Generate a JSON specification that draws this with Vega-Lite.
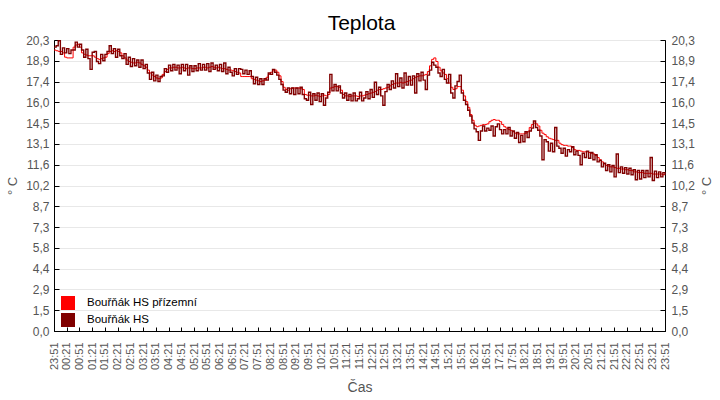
{
  "$schema": "https://vega.github.io/schema/vega-lite/v6.json",
  "width": 611,
  "height": 291,
  "autosize": {"type": "none"},
  "padding": {"left": 54, "top": 40, "right": 55, "bottom": 69},
  "background": "white",
  "title": {"text": "Teplota", "fontSize": 21, "fontWeight": "normal", "color": "black", "anchor": "middle", "frame": "group", "offset": -17, "baseline": "alphabetic", "dx": 2},
  "config": {
    "font": "Liberation Sans",
    "view": {"stroke": "black", "strokeWidth": 1},
    "axis": {"domainColor": "black", "tickColor": "black", "labelColor": "#555", "titleColor": "#555", "titleFontWeight": "normal", "gridColor": "#e8e8e8"}
  },
  "data": {
    "values": [
      {"cas": "2024-05-01T23:51", "prizemni": 19.6, "hs": 19.8},
      {"cas": "2024-05-01T23:56", "prizemni": 19.55, "hs": 19.9},
      {"cas": "2024-05-02T00:01", "prizemni": 19.5, "hs": 20.25},
      {"cas": "2024-05-02T00:06", "prizemni": 19.5, "hs": 19.3},
      {"cas": "2024-05-02T00:11", "prizemni": 19.4, "hs": 19.75},
      {"cas": "2024-05-02T00:16", "prizemni": 19.1, "hs": 19.4},
      {"cas": "2024-05-02T00:21", "prizemni": 19.05, "hs": 19.7},
      {"cas": "2024-05-02T00:26", "prizemni": 19.05, "hs": 19.35},
      {"cas": "2024-05-02T00:31", "prizemni": 19.05, "hs": 19.6},
      {"cas": "2024-05-02T00:36", "prizemni": 19.8, "hs": 19.6},
      {"cas": "2024-05-02T00:41", "prizemni": 19.95, "hs": 20.15},
      {"cas": "2024-05-02T00:46", "prizemni": 20.0, "hs": 19.8},
      {"cas": "2024-05-02T00:51", "prizemni": 19.8, "hs": 20.0},
      {"cas": "2024-05-02T00:56", "prizemni": 19.4, "hs": 19.6},
      {"cas": "2024-05-02T01:01", "prizemni": 19.3, "hs": 19.1},
      {"cas": "2024-05-02T01:06", "prizemni": 19.25, "hs": 19.65},
      {"cas": "2024-05-02T01:11", "prizemni": 19.2, "hs": 19.0},
      {"cas": "2024-05-02T01:16", "prizemni": 19.2, "hs": 18.25},
      {"cas": "2024-05-02T01:21", "prizemni": 19.2, "hs": 19.45},
      {"cas": "2024-05-02T01:26", "prizemni": 19.1, "hs": 19.5},
      {"cas": "2024-05-02T01:31", "prizemni": 19.0, "hs": 18.8},
      {"cas": "2024-05-02T01:36", "prizemni": 18.95, "hs": 18.65},
      {"cas": "2024-05-02T01:41", "prizemni": 19.0, "hs": 19.3},
      {"cas": "2024-05-02T01:46", "prizemni": 19.05, "hs": 18.85},
      {"cas": "2024-05-02T01:51", "prizemni": 19.1, "hs": 19.3},
      {"cas": "2024-05-02T01:56", "prizemni": 19.35, "hs": 19.5},
      {"cas": "2024-05-02T02:01", "prizemni": 19.5, "hs": 19.9},
      {"cas": "2024-05-02T02:06", "prizemni": 19.55, "hs": 19.35},
      {"cas": "2024-05-02T02:11", "prizemni": 19.5, "hs": 19.7},
      {"cas": "2024-05-02T02:16", "prizemni": 19.55, "hs": 19.1},
      {"cas": "2024-05-02T02:21", "prizemni": 19.5, "hs": 19.65},
      {"cas": "2024-05-02T02:26", "prizemni": 19.4, "hs": 19.2},
      {"cas": "2024-05-02T02:31", "prizemni": 19.2, "hs": 19.0},
      {"cas": "2024-05-02T02:36", "prizemni": 19.05, "hs": 19.35},
      {"cas": "2024-05-02T02:41", "prizemni": 18.9, "hs": 18.6},
      {"cas": "2024-05-02T02:46", "prizemni": 18.8, "hs": 19.1},
      {"cas": "2024-05-02T02:51", "prizemni": 18.75, "hs": 18.45},
      {"cas": "2024-05-02T02:56", "prizemni": 18.7, "hs": 19.0},
      {"cas": "2024-05-02T03:01", "prizemni": 18.7, "hs": 18.5},
      {"cas": "2024-05-02T03:06", "prizemni": 18.75, "hs": 18.9},
      {"cas": "2024-05-02T03:11", "prizemni": 18.7, "hs": 18.4},
      {"cas": "2024-05-02T03:16", "prizemni": 18.6, "hs": 18.9},
      {"cas": "2024-05-02T03:21", "prizemni": 18.5, "hs": 18.3},
      {"cas": "2024-05-02T03:26", "prizemni": 18.4, "hs": 18.6},
      {"cas": "2024-05-02T03:31", "prizemni": 18.2, "hs": 18.0},
      {"cas": "2024-05-02T03:36", "prizemni": 18.0, "hs": 17.55},
      {"cas": "2024-05-02T03:41", "prizemni": 17.85, "hs": 18.05},
      {"cas": "2024-05-02T03:46", "prizemni": 17.75, "hs": 17.45},
      {"cas": "2024-05-02T03:51", "prizemni": 17.65, "hs": 17.85},
      {"cas": "2024-05-02T03:56", "prizemni": 17.6, "hs": 17.4},
      {"cas": "2024-05-02T04:01", "prizemni": 17.65, "hs": 17.75},
      {"cas": "2024-05-02T04:06", "prizemni": 17.9, "hs": 17.8},
      {"cas": "2024-05-02T04:11", "prizemni": 18.1, "hs": 18.3},
      {"cas": "2024-05-02T04:16", "prizemni": 18.25, "hs": 18.05},
      {"cas": "2024-05-02T04:21", "prizemni": 18.35, "hs": 18.55},
      {"cas": "2024-05-02T04:26", "prizemni": 18.35, "hs": 18.15},
      {"cas": "2024-05-02T04:31", "prizemni": 18.4, "hs": 18.6},
      {"cas": "2024-05-02T04:36", "prizemni": 18.4, "hs": 18.2},
      {"cas": "2024-05-02T04:41", "prizemni": 18.35, "hs": 18.55},
      {"cas": "2024-05-02T04:46", "prizemni": 18.35, "hs": 17.95},
      {"cas": "2024-05-02T04:51", "prizemni": 18.4, "hs": 18.6},
      {"cas": "2024-05-02T04:56", "prizemni": 18.35, "hs": 18.15},
      {"cas": "2024-05-02T05:01", "prizemni": 18.3, "hs": 18.6},
      {"cas": "2024-05-02T05:06", "prizemni": 18.35, "hs": 17.85},
      {"cas": "2024-05-02T05:11", "prizemni": 18.35, "hs": 18.5},
      {"cas": "2024-05-02T05:16", "prizemni": 18.3, "hs": 18.1},
      {"cas": "2024-05-02T05:21", "prizemni": 18.3, "hs": 18.5},
      {"cas": "2024-05-02T05:26", "prizemni": 18.35, "hs": 18.15},
      {"cas": "2024-05-02T05:31", "prizemni": 18.35, "hs": 18.65},
      {"cas": "2024-05-02T05:36", "prizemni": 18.35, "hs": 18.2},
      {"cas": "2024-05-02T05:41", "prizemni": 18.4, "hs": 18.6},
      {"cas": "2024-05-02T05:46", "prizemni": 18.4, "hs": 18.2},
      {"cas": "2024-05-02T05:51", "prizemni": 18.35, "hs": 18.65},
      {"cas": "2024-05-02T05:56", "prizemni": 18.4, "hs": 18.1},
      {"cas": "2024-05-02T06:01", "prizemni": 18.45, "hs": 18.7},
      {"cas": "2024-05-02T06:06", "prizemni": 18.4, "hs": 18.25},
      {"cas": "2024-05-02T06:11", "prizemni": 18.35, "hs": 18.55},
      {"cas": "2024-05-02T06:16", "prizemni": 18.4, "hs": 18.15},
      {"cas": "2024-05-02T06:21", "prizemni": 18.35, "hs": 18.6},
      {"cas": "2024-05-02T06:26", "prizemni": 18.3, "hs": 18.1},
      {"cas": "2024-05-02T06:31", "prizemni": 18.3, "hs": 18.7},
      {"cas": "2024-05-02T06:36", "prizemni": 18.25, "hs": 17.95},
      {"cas": "2024-05-02T06:41", "prizemni": 18.2, "hs": 18.4},
      {"cas": "2024-05-02T06:46", "prizemni": 18.2, "hs": 18.05},
      {"cas": "2024-05-02T06:51", "prizemni": 18.15, "hs": 17.8},
      {"cas": "2024-05-02T06:56", "prizemni": 18.1, "hs": 18.3},
      {"cas": "2024-05-02T07:01", "prizemni": 18.05, "hs": 17.9},
      {"cas": "2024-05-02T07:06", "prizemni": 18.0, "hs": 18.3},
      {"cas": "2024-05-02T07:11", "prizemni": 17.75, "hs": 18.25},
      {"cas": "2024-05-02T07:16", "prizemni": 17.75, "hs": 17.95},
      {"cas": "2024-05-02T07:21", "prizemni": 17.75, "hs": 18.2},
      {"cas": "2024-05-02T07:26", "prizemni": 17.75, "hs": 17.9},
      {"cas": "2024-05-02T07:31", "prizemni": 17.75, "hs": 18.15},
      {"cas": "2024-05-02T07:36", "prizemni": 17.6, "hs": 17.75},
      {"cas": "2024-05-02T07:41", "prizemni": 17.55, "hs": 17.25},
      {"cas": "2024-05-02T07:46", "prizemni": 17.5, "hs": 17.7},
      {"cas": "2024-05-02T07:51", "prizemni": 17.45, "hs": 17.2},
      {"cas": "2024-05-02T07:56", "prizemni": 17.4, "hs": 17.6},
      {"cas": "2024-05-02T08:01", "prizemni": 17.45, "hs": 17.2},
      {"cas": "2024-05-02T08:06", "prizemni": 17.5, "hs": 17.6},
      {"cas": "2024-05-02T08:11", "prizemni": 17.7, "hs": 17.5},
      {"cas": "2024-05-02T08:16", "prizemni": 17.9, "hs": 18.0},
      {"cas": "2024-05-02T08:21", "prizemni": 18.05, "hs": 17.9},
      {"cas": "2024-05-02T08:26", "prizemni": 18.15, "hs": 18.25},
      {"cas": "2024-05-02T08:31", "prizemni": 18.2, "hs": 18.05},
      {"cas": "2024-05-02T08:36", "prizemni": 18.05, "hs": 17.85},
      {"cas": "2024-05-02T08:41", "prizemni": 17.8, "hs": 17.55},
      {"cas": "2024-05-02T08:46", "prizemni": 17.4, "hs": 17.2},
      {"cas": "2024-05-02T08:51", "prizemni": 17.0, "hs": 16.8},
      {"cas": "2024-05-02T08:56", "prizemni": 16.85, "hs": 16.65},
      {"cas": "2024-05-02T09:01", "prizemni": 16.8, "hs": 16.95},
      {"cas": "2024-05-02T09:06", "prizemni": 16.9, "hs": 16.55},
      {"cas": "2024-05-02T09:11", "prizemni": 16.95, "hs": 16.95},
      {"cas": "2024-05-02T09:16", "prizemni": 16.95, "hs": 16.5},
      {"cas": "2024-05-02T09:21", "prizemni": 16.95, "hs": 16.95},
      {"cas": "2024-05-02T09:26", "prizemni": 16.95, "hs": 16.55},
      {"cas": "2024-05-02T09:31", "prizemni": 16.9, "hs": 17.0},
      {"cas": "2024-05-02T09:36", "prizemni": 16.85, "hs": 16.5},
      {"cas": "2024-05-02T09:41", "prizemni": 16.5, "hs": 16.2},
      {"cas": "2024-05-02T09:46", "prizemni": 16.45, "hs": 16.1},
      {"cas": "2024-05-02T09:51", "prizemni": 16.45, "hs": 16.65},
      {"cas": "2024-05-02T09:56", "prizemni": 16.4, "hs": 15.8},
      {"cas": "2024-05-02T10:01", "prizemni": 16.4, "hs": 16.55},
      {"cas": "2024-05-02T10:06", "prizemni": 16.45, "hs": 16.1},
      {"cas": "2024-05-02T10:11", "prizemni": 16.4, "hs": 16.6},
      {"cas": "2024-05-02T10:16", "prizemni": 16.35, "hs": 16.0},
      {"cas": "2024-05-02T10:21", "prizemni": 16.4, "hs": 16.55},
      {"cas": "2024-05-02T10:26", "prizemni": 16.45, "hs": 15.75},
      {"cas": "2024-05-02T10:31", "prizemni": 16.4, "hs": 16.25},
      {"cas": "2024-05-02T10:36", "prizemni": 16.5, "hs": 16.65},
      {"cas": "2024-05-02T10:41", "prizemni": 16.95, "hs": 17.9},
      {"cas": "2024-05-02T10:46", "prizemni": 17.0, "hs": 16.75},
      {"cas": "2024-05-02T10:51", "prizemni": 17.05, "hs": 17.2},
      {"cas": "2024-05-02T10:56", "prizemni": 17.05, "hs": 16.75},
      {"cas": "2024-05-02T11:01", "prizemni": 17.0, "hs": 17.1},
      {"cas": "2024-05-02T11:06", "prizemni": 16.8, "hs": 16.6},
      {"cas": "2024-05-02T11:11", "prizemni": 16.5, "hs": 16.25},
      {"cas": "2024-05-02T11:16", "prizemni": 16.4, "hs": 16.6},
      {"cas": "2024-05-02T11:21", "prizemni": 16.4, "hs": 16.1},
      {"cas": "2024-05-02T11:26", "prizemni": 16.35, "hs": 16.5},
      {"cas": "2024-05-02T11:31", "prizemni": 16.4, "hs": 16.05},
      {"cas": "2024-05-02T11:36", "prizemni": 16.4, "hs": 16.6},
      {"cas": "2024-05-02T11:41", "prizemni": 16.4, "hs": 16.05},
      {"cas": "2024-05-02T11:46", "prizemni": 16.35, "hs": 16.2},
      {"cas": "2024-05-02T11:51", "prizemni": 16.4, "hs": 16.65},
      {"cas": "2024-05-02T11:56", "prizemni": 16.4, "hs": 16.05},
      {"cas": "2024-05-02T12:01", "prizemni": 16.45, "hs": 16.25},
      {"cas": "2024-05-02T12:06", "prizemni": 16.5, "hs": 16.7},
      {"cas": "2024-05-02T12:11", "prizemni": 16.55, "hs": 16.2},
      {"cas": "2024-05-02T12:16", "prizemni": 16.6, "hs": 16.85},
      {"cas": "2024-05-02T12:21", "prizemni": 16.65, "hs": 16.3},
      {"cas": "2024-05-02T12:26", "prizemni": 16.7, "hs": 17.35},
      {"cas": "2024-05-02T12:31", "prizemni": 16.8, "hs": 16.5},
      {"cas": "2024-05-02T12:36", "prizemni": 16.85, "hs": 17.0},
      {"cas": "2024-05-02T12:41", "prizemni": 16.85, "hs": 16.4},
      {"cas": "2024-05-02T12:46", "prizemni": 16.9, "hs": 15.75},
      {"cas": "2024-05-02T12:51", "prizemni": 16.95, "hs": 16.7},
      {"cas": "2024-05-02T12:56", "prizemni": 17.0, "hs": 17.2},
      {"cas": "2024-05-02T13:01", "prizemni": 17.1, "hs": 16.85},
      {"cas": "2024-05-02T13:06", "prizemni": 17.2, "hs": 17.45},
      {"cas": "2024-05-02T13:11", "prizemni": 17.25, "hs": 16.95},
      {"cas": "2024-05-02T13:16", "prizemni": 17.3, "hs": 17.95},
      {"cas": "2024-05-02T13:21", "prizemni": 17.3, "hs": 17.05},
      {"cas": "2024-05-02T13:26", "prizemni": 17.35, "hs": 17.65},
      {"cas": "2024-05-02T13:31", "prizemni": 17.3, "hs": 16.95},
      {"cas": "2024-05-02T13:36", "prizemni": 17.35, "hs": 18.0},
      {"cas": "2024-05-02T13:41", "prizemni": 17.4, "hs": 17.15},
      {"cas": "2024-05-02T13:46", "prizemni": 17.45, "hs": 17.75},
      {"cas": "2024-05-02T13:51", "prizemni": 17.5, "hs": 17.15},
      {"cas": "2024-05-02T13:56", "prizemni": 17.6, "hs": 17.8},
      {"cas": "2024-05-02T14:01", "prizemni": 17.7, "hs": 16.6},
      {"cas": "2024-05-02T14:06", "prizemni": 17.75, "hs": 17.95},
      {"cas": "2024-05-02T14:11", "prizemni": 17.8, "hs": 17.45},
      {"cas": "2024-05-02T14:16", "prizemni": 17.8, "hs": 18.05},
      {"cas": "2024-05-02T14:21", "prizemni": 17.85, "hs": 17.5},
      {"cas": "2024-05-02T14:26", "prizemni": 17.9, "hs": 16.85},
      {"cas": "2024-05-02T14:31", "prizemni": 18.1, "hs": 17.85},
      {"cas": "2024-05-02T14:36", "prizemni": 18.5, "hs": 18.2},
      {"cas": "2024-05-02T14:41", "prizemni": 18.95, "hs": 18.75},
      {"cas": "2024-05-02T14:46", "prizemni": 19.05, "hs": 18.55},
      {"cas": "2024-05-02T14:51", "prizemni": 18.8, "hs": 18.4},
      {"cas": "2024-05-02T14:56", "prizemni": 18.4, "hs": 18.0},
      {"cas": "2024-05-02T15:01", "prizemni": 18.15, "hs": 17.75},
      {"cas": "2024-05-02T15:06", "prizemni": 18.0, "hs": 18.25},
      {"cas": "2024-05-02T15:11", "prizemni": 17.9, "hs": 17.55},
      {"cas": "2024-05-02T15:16", "prizemni": 17.6, "hs": 17.3},
      {"cas": "2024-05-02T15:21", "prizemni": 17.3, "hs": 17.9},
      {"cas": "2024-05-02T15:26", "prizemni": 17.0, "hs": 16.6},
      {"cas": "2024-05-02T15:31", "prizemni": 16.85, "hs": 16.25},
      {"cas": "2024-05-02T15:36", "prizemni": 16.9, "hs": 17.1},
      {"cas": "2024-05-02T15:41", "prizemni": 17.05, "hs": 17.4},
      {"cas": "2024-05-02T15:46", "prizemni": 17.05, "hs": 17.85},
      {"cas": "2024-05-02T15:51", "prizemni": 16.8, "hs": 16.6},
      {"cas": "2024-05-02T15:56", "prizemni": 16.4, "hs": 16.1},
      {"cas": "2024-05-02T16:01", "prizemni": 16.0, "hs": 15.8},
      {"cas": "2024-05-02T16:06", "prizemni": 15.6, "hs": 15.4},
      {"cas": "2024-05-02T16:11", "prizemni": 15.1, "hs": 15.0},
      {"cas": "2024-05-02T16:16", "prizemni": 14.7, "hs": 14.5},
      {"cas": "2024-05-02T16:21", "prizemni": 14.35, "hs": 14.1},
      {"cas": "2024-05-02T16:26", "prizemni": 14.25, "hs": 13.9},
      {"cas": "2024-05-02T16:31", "prizemni": 14.3, "hs": 13.3},
      {"cas": "2024-05-02T16:36", "prizemni": 14.35, "hs": 13.95},
      {"cas": "2024-05-02T16:41", "prizemni": 14.4, "hs": 14.3},
      {"cas": "2024-05-02T16:46", "prizemni": 14.4, "hs": 13.95},
      {"cas": "2024-05-02T16:51", "prizemni": 14.45, "hs": 14.15},
      {"cas": "2024-05-02T16:56", "prizemni": 14.6, "hs": 14.0},
      {"cas": "2024-05-02T17:01", "prizemni": 14.7, "hs": 14.3},
      {"cas": "2024-05-02T17:06", "prizemni": 14.75, "hs": 13.6},
      {"cas": "2024-05-02T17:11", "prizemni": 14.7, "hs": 14.25},
      {"cas": "2024-05-02T17:16", "prizemni": 14.7, "hs": 14.45},
      {"cas": "2024-05-02T17:21", "prizemni": 14.6, "hs": 14.05},
      {"cas": "2024-05-02T17:26", "prizemni": 14.4, "hs": 13.75},
      {"cas": "2024-05-02T17:31", "prizemni": 14.25, "hs": 14.05},
      {"cas": "2024-05-02T17:36", "prizemni": 14.15, "hs": 13.75},
      {"cas": "2024-05-02T17:41", "prizemni": 14.05, "hs": 14.2},
      {"cas": "2024-05-02T17:46", "prizemni": 14.0, "hs": 13.6},
      {"cas": "2024-05-02T17:51", "prizemni": 13.9, "hs": 13.95},
      {"cas": "2024-05-02T17:56", "prizemni": 13.8, "hs": 13.45},
      {"cas": "2024-05-02T18:01", "prizemni": 13.75, "hs": 13.85},
      {"cas": "2024-05-02T18:06", "prizemni": 13.75, "hs": 13.15},
      {"cas": "2024-05-02T18:11", "prizemni": 13.75, "hs": 13.65},
      {"cas": "2024-05-02T18:16", "prizemni": 13.75, "hs": 13.2},
      {"cas": "2024-05-02T18:21", "prizemni": 13.8, "hs": 13.9},
      {"cas": "2024-05-02T18:26", "prizemni": 13.9, "hs": 13.5},
      {"cas": "2024-05-02T18:31", "prizemni": 14.2, "hs": 13.95},
      {"cas": "2024-05-02T18:36", "prizemni": 14.4, "hs": 14.15},
      {"cas": "2024-05-02T18:41", "prizemni": 14.5, "hs": 14.65},
      {"cas": "2024-05-02T18:46", "prizemni": 14.45, "hs": 14.2},
      {"cas": "2024-05-02T18:51", "prizemni": 14.3, "hs": 14.0},
      {"cas": "2024-05-02T18:56", "prizemni": 14.0, "hs": 13.6},
      {"cas": "2024-05-02T19:01", "prizemni": 13.8, "hs": 11.95},
      {"cas": "2024-05-02T19:06", "prizemni": 13.7, "hs": 13.35},
      {"cas": "2024-05-02T19:11", "prizemni": 13.55, "hs": 13.2},
      {"cas": "2024-05-02T19:16", "prizemni": 13.45, "hs": 12.55},
      {"cas": "2024-05-02T19:21", "prizemni": 13.4, "hs": 13.1},
      {"cas": "2024-05-02T19:26", "prizemni": 13.35, "hs": 12.5},
      {"cas": "2024-05-02T19:31", "prizemni": 13.3, "hs": 14.2},
      {"cas": "2024-05-02T19:36", "prizemni": 13.3, "hs": 12.9},
      {"cas": "2024-05-02T19:41", "prizemni": 13.1, "hs": 12.75},
      {"cas": "2024-05-02T19:46", "prizemni": 13.0, "hs": 12.4},
      {"cas": "2024-05-02T19:51", "prizemni": 12.95, "hs": 12.75},
      {"cas": "2024-05-02T19:56", "prizemni": 12.95, "hs": 12.2},
      {"cas": "2024-05-02T20:01", "prizemni": 12.9, "hs": 12.65},
      {"cas": "2024-05-02T20:06", "prizemni": 12.9, "hs": 12.5},
      {"cas": "2024-05-02T20:11", "prizemni": 12.8, "hs": 12.85},
      {"cas": "2024-05-02T20:16", "prizemni": 12.65, "hs": 12.3},
      {"cas": "2024-05-02T20:21", "prizemni": 12.6, "hs": 12.55},
      {"cas": "2024-05-02T20:26", "prizemni": 12.6, "hs": 12.25},
      {"cas": "2024-05-02T20:31", "prizemni": 12.55, "hs": 11.6},
      {"cas": "2024-05-02T20:36", "prizemni": 12.5, "hs": 12.4},
      {"cas": "2024-05-02T20:41", "prizemni": 12.5, "hs": 12.1},
      {"cas": "2024-05-02T20:46", "prizemni": 12.5, "hs": 12.55},
      {"cas": "2024-05-02T20:51", "prizemni": 12.45, "hs": 12.05},
      {"cas": "2024-05-02T20:56", "prizemni": 12.4, "hs": 12.45},
      {"cas": "2024-05-02T21:01", "prizemni": 12.35, "hs": 11.95},
      {"cas": "2024-05-02T21:06", "prizemni": 12.25, "hs": 12.3},
      {"cas": "2024-05-02T21:11", "prizemni": 12.1, "hs": 11.8},
      {"cas": "2024-05-02T21:16", "prizemni": 11.95, "hs": 11.9},
      {"cas": "2024-05-02T21:21", "prizemni": 11.8, "hs": 11.45},
      {"cas": "2024-05-02T21:26", "prizemni": 11.65, "hs": 11.7},
      {"cas": "2024-05-02T21:31", "prizemni": 11.55, "hs": 11.2},
      {"cas": "2024-05-02T21:36", "prizemni": 11.5, "hs": 11.6},
      {"cas": "2024-05-02T21:41", "prizemni": 11.45, "hs": 11.1},
      {"cas": "2024-05-02T21:46", "prizemni": 11.45, "hs": 11.55},
      {"cas": "2024-05-02T21:51", "prizemni": 11.4, "hs": 10.75},
      {"cas": "2024-05-02T21:56", "prizemni": 11.35, "hs": 12.35},
      {"cas": "2024-05-02T22:01", "prizemni": 11.35, "hs": 11.05},
      {"cas": "2024-05-02T22:06", "prizemni": 11.3, "hs": 11.45},
      {"cas": "2024-05-02T22:11", "prizemni": 11.3, "hs": 11.0},
      {"cas": "2024-05-02T22:16", "prizemni": 11.25, "hs": 11.4},
      {"cas": "2024-05-02T22:21", "prizemni": 11.25, "hs": 10.95},
      {"cas": "2024-05-02T22:26", "prizemni": 11.2, "hs": 11.35},
      {"cas": "2024-05-02T22:31", "prizemni": 11.2, "hs": 10.9},
      {"cas": "2024-05-02T22:36", "prizemni": 11.1, "hs": 11.25},
      {"cas": "2024-05-02T22:41", "prizemni": 11.1, "hs": 10.55},
      {"cas": "2024-05-02T22:46", "prizemni": 11.05, "hs": 11.2},
      {"cas": "2024-05-02T22:51", "prizemni": 11.05, "hs": 10.6},
      {"cas": "2024-05-02T22:56", "prizemni": 11.05, "hs": 11.2},
      {"cas": "2024-05-02T23:01", "prizemni": 11.0, "hs": 10.7},
      {"cas": "2024-05-02T23:06", "prizemni": 11.0, "hs": 11.2},
      {"cas": "2024-05-02T23:11", "prizemni": 11.0, "hs": 10.75},
      {"cas": "2024-05-02T23:16", "prizemni": 11.0, "hs": 12.1},
      {"cas": "2024-05-02T23:21", "prizemni": 10.95, "hs": 10.5},
      {"cas": "2024-05-02T23:26", "prizemni": 10.95, "hs": 11.15},
      {"cas": "2024-05-02T23:31", "prizemni": 10.95, "hs": 10.7},
      {"cas": "2024-05-02T23:36", "prizemni": 10.95, "hs": 11.1},
      {"cas": "2024-05-02T23:41", "prizemni": 10.95, "hs": 10.75},
      {"cas": "2024-05-02T23:46", "prizemni": 10.9, "hs": 11.05},
      {"cas": "2024-05-02T23:51", "prizemni": 10.9, "hs": 10.9}
    ]
  },
  "layer": [
    {
      "mark": {"type": "line", "interpolate": "step-after", "strokeWidth": 1},
      "encoding": {
        "x": {
          "field": "cas", "type": "temporal",
          "scale": {"domain": [{"year": 2024, "month": 5, "date": 1, "hours": 23, "minutes": 51}, {"year": 2024, "month": 5, "date": 2, "hours": 23, "minutes": 51}]},
          "axis": {
            "title": "Čas", "titleFontSize": 14, "titleX": 305.5, "titleY": 60, "titleAlign": "center", "titleBaseline": "alphabetic",
            "format": "%H:%M", "labelAngle": 270, "labelFontSize": 11, "labelOverlap": false, "labelFlush": false,
            "tickSize": -4, "labelPadding": 15, "grid": false, "tickCount": 60,
            "values": [
              {"year": 2024, "month": 5, "date": 1, "hours": 23, "minutes": 51},
              {"year": 2024, "month": 5, "date": 2, "hours": 0, "minutes": 21},
              {"year": 2024, "month": 5, "date": 2, "hours": 0, "minutes": 51},
              {"year": 2024, "month": 5, "date": 2, "hours": 1, "minutes": 21},
              {"year": 2024, "month": 5, "date": 2, "hours": 1, "minutes": 51},
              {"year": 2024, "month": 5, "date": 2, "hours": 2, "minutes": 21},
              {"year": 2024, "month": 5, "date": 2, "hours": 2, "minutes": 51},
              {"year": 2024, "month": 5, "date": 2, "hours": 3, "minutes": 21},
              {"year": 2024, "month": 5, "date": 2, "hours": 3, "minutes": 51},
              {"year": 2024, "month": 5, "date": 2, "hours": 4, "minutes": 21},
              {"year": 2024, "month": 5, "date": 2, "hours": 4, "minutes": 51},
              {"year": 2024, "month": 5, "date": 2, "hours": 5, "minutes": 21},
              {"year": 2024, "month": 5, "date": 2, "hours": 5, "minutes": 51},
              {"year": 2024, "month": 5, "date": 2, "hours": 6, "minutes": 21},
              {"year": 2024, "month": 5, "date": 2, "hours": 6, "minutes": 51},
              {"year": 2024, "month": 5, "date": 2, "hours": 7, "minutes": 21},
              {"year": 2024, "month": 5, "date": 2, "hours": 7, "minutes": 51},
              {"year": 2024, "month": 5, "date": 2, "hours": 8, "minutes": 21},
              {"year": 2024, "month": 5, "date": 2, "hours": 8, "minutes": 51},
              {"year": 2024, "month": 5, "date": 2, "hours": 9, "minutes": 21},
              {"year": 2024, "month": 5, "date": 2, "hours": 9, "minutes": 51},
              {"year": 2024, "month": 5, "date": 2, "hours": 10, "minutes": 21},
              {"year": 2024, "month": 5, "date": 2, "hours": 10, "minutes": 51},
              {"year": 2024, "month": 5, "date": 2, "hours": 11, "minutes": 21},
              {"year": 2024, "month": 5, "date": 2, "hours": 11, "minutes": 51},
              {"year": 2024, "month": 5, "date": 2, "hours": 12, "minutes": 21},
              {"year": 2024, "month": 5, "date": 2, "hours": 12, "minutes": 51},
              {"year": 2024, "month": 5, "date": 2, "hours": 13, "minutes": 21},
              {"year": 2024, "month": 5, "date": 2, "hours": 13, "minutes": 51},
              {"year": 2024, "month": 5, "date": 2, "hours": 14, "minutes": 21},
              {"year": 2024, "month": 5, "date": 2, "hours": 14, "minutes": 51},
              {"year": 2024, "month": 5, "date": 2, "hours": 15, "minutes": 21},
              {"year": 2024, "month": 5, "date": 2, "hours": 15, "minutes": 51},
              {"year": 2024, "month": 5, "date": 2, "hours": 16, "minutes": 21},
              {"year": 2024, "month": 5, "date": 2, "hours": 16, "minutes": 51},
              {"year": 2024, "month": 5, "date": 2, "hours": 17, "minutes": 21},
              {"year": 2024, "month": 5, "date": 2, "hours": 17, "minutes": 51},
              {"year": 2024, "month": 5, "date": 2, "hours": 18, "minutes": 21},
              {"year": 2024, "month": 5, "date": 2, "hours": 18, "minutes": 51},
              {"year": 2024, "month": 5, "date": 2, "hours": 19, "minutes": 21},
              {"year": 2024, "month": 5, "date": 2, "hours": 19, "minutes": 51},
              {"year": 2024, "month": 5, "date": 2, "hours": 20, "minutes": 21},
              {"year": 2024, "month": 5, "date": 2, "hours": 20, "minutes": 51},
              {"year": 2024, "month": 5, "date": 2, "hours": 21, "minutes": 21},
              {"year": 2024, "month": 5, "date": 2, "hours": 21, "minutes": 51},
              {"year": 2024, "month": 5, "date": 2, "hours": 22, "minutes": 21},
              {"year": 2024, "month": 5, "date": 2, "hours": 22, "minutes": 51},
              {"year": 2024, "month": 5, "date": 2, "hours": 23, "minutes": 21},
              {"year": 2024, "month": 5, "date": 2, "hours": 23, "minutes": 51}
            ]
          }
        },
        "y": {
          "field": "prizemni", "type": "quantitative",
          "scale": {"domain": [0, 20.3], "nice": false, "zero": true},
          "axis": {
            "title": "° C", "titleFontSize": 13, "titleAngle": 270, "titleX": -38, "titleY": 145.5, "titleAlign": "center", "titleBaseline": "alphabetic",
            "values": [0, 1.45, 2.9, 4.35, 5.8, 7.25, 8.7, 10.15, 11.6, 13.05, 14.5, 15.95, 17.4, 18.85, 20.3],
            "labelExpr": "replace(format(datum.value + 0.0001, '.1f'), '.', ',')",
            "labelFontSize": 12, "tickSize": -5, "labelPadding": 10, "grid": true, "tickCount": 20
          }
        },
        "color": {
          "datum": "prizemni", "type": "nominal",
          "scale": {"domain": ["prizemni", "hs"], "range": ["#ff0000", "#800000"]},
          "legend": {
            "orient": "none", "legendX": 7, "legendY": 256, "title": null, "padding": 0,
            "symbolType": "square", "symbolSize": 196, "symbolStrokeWidth": 0, "rowPadding": 3,
            "labelFontSize": 11.5, "labelColor": "black", "labelOffset": 12,
            "labelExpr": "datum.value == 'hs' ? 'Bouřňák HS' : 'Bouřňák HS přízemní'",
            "encode": {"symbols": {"update": {"fill": {"scale": "color", "field": "value"}, "fillOpacity": {"value": 1}}}}
          }
        }
      }
    },
    {
      "mark": {"type": "line", "interpolate": "step-after", "strokeWidth": 1.4},
      "encoding": {
        "x": {"field": "cas", "type": "temporal"},
        "y": {
          "field": "hs", "type": "quantitative",
          "scale": {"domain": [0, 20.3], "nice": false, "zero": true},
          "axis": {
            "orient": "right", "title": "° C", "titleFontSize": 13, "titleAngle": 270, "titleX": 45, "titleY": 145.5, "titleAlign": "center", "titleBaseline": "alphabetic",
            "values": [0, 1.45, 2.9, 4.35, 5.8, 7.25, 8.7, 10.15, 11.6, 13.05, 14.5, 15.95, 17.4, 18.85, 20.3],
            "labelExpr": "replace(format(datum.value + 0.0001, '.1f'), '.', ',')",
            "labelFontSize": 12, "tickSize": -5, "labelPadding": 11, "grid": false, "tickCount": 20
          }
        },
        "color": {"datum": "hs", "type": "nominal"}
      }
    }
  ],
  "resolve": {"scale": {"y": "independent"}}
}
